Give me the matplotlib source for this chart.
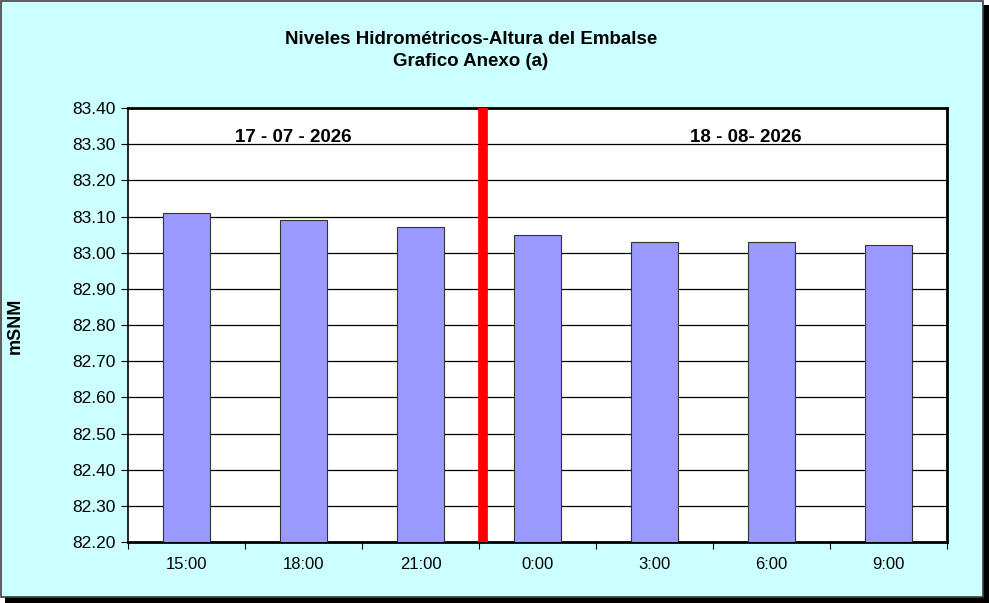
import matplotlib
matplotlib.use("Agg")
import matplotlib.pyplot as plt
from matplotlib.patches import Rectangle
import numpy as np

plt.rcParams['font.family'] = ['Liberation Sans', 'DejaVu Sans']

# data
horas = ['15:00', '18:00', '21:00', '0:00', '3:00', '6:00', '9:00']
niveles = [83.11, 83.09, 83.07, 83.05, 83.03, 83.03, 83.02]
yticks = np.arange(82.20, 83.401, 0.10)

fig = plt.figure(figsize=(9.89, 6.03), dpi=100)
fig.patch.set_facecolor('white')

# frame with shadow
fig.patches.append(Rectangle((5/989, 0), 984/989, 598/603, transform=fig.transFigure,
                             facecolor='black', edgecolor='none', zorder=-2))
fig.patches.append(Rectangle((1/989, 6/603), 982/989, 596/603, transform=fig.transFigure,
                             facecolor='#CCFFFF', edgecolor='#404040', linewidth=1.2, zorder=-1))

ax = fig.add_axes([128/989, 61/603, 819/989, 434/603])
ax.set_facecolor('white')

x = np.arange(len(horas))
ax.bar(x, np.array(niveles) - 82.20, bottom=82.20, width=0.4,
       color='#9999FF', edgecolor='#333333', linewidth=0.8, zorder=3)

ax.set_xlim(-0.5, len(horas) - 0.5)
ax.set_ylim(82.20, 83.40)
ax.set_yticks(yticks)
ax.set_yticklabels([f'{v:.2f}' for v in yticks], fontsize=12.5)
ax.yaxis.grid(True, color='black', linewidth=0.9, zorder=0)

# ticks at category boundaries, labels centred
ax.set_xticks(np.arange(-0.5, len(horas), 1.0))
ax.set_xticklabels([])
ax.set_xticks(x, minor=True)
ax.set_xticklabels(horas, minor=True, fontsize=12)
ax.tick_params(axis='x', which='minor', length=0, pad=11)
ax.tick_params(axis='x', which='major', length=5, direction='out', color='black')
ax.tick_params(axis='y', length=5, direction='out', pad=4)

for s in ax.spines.values():
    s.set_linewidth(2)
    s.set_color('black')
ax.spines['left'].set_linewidth(1.2)

# red separator line between days
ax.axvline(2.53, color='red', linewidth=7, zorder=4)

ax.text(0.914, 83.318, '17 - 07 - 2026', ha='center', va='center', fontsize=13.5, fontweight='bold')
ax.text(4.78, 83.318, '18 - 08- 2026', ha='center', va='center', fontsize=13.5, fontweight='bold')

fig.text(15/989, 1 - 326/603, 'mSNM', rotation=90, ha='center', va='center',
         fontsize=13, fontweight='bold')

fig.text(471/989, 1 - 39/603, 'Niveles Hidrométricos-Altura del Embalse', ha='center', va='center',
         fontsize=13.5, fontweight='bold')
fig.text(471/989, 1 - 61/603, 'Grafico Anexo (a)', ha='center', va='center',
         fontsize=13.5, fontweight='bold')

fig.savefig('out.png', dpi=100)
